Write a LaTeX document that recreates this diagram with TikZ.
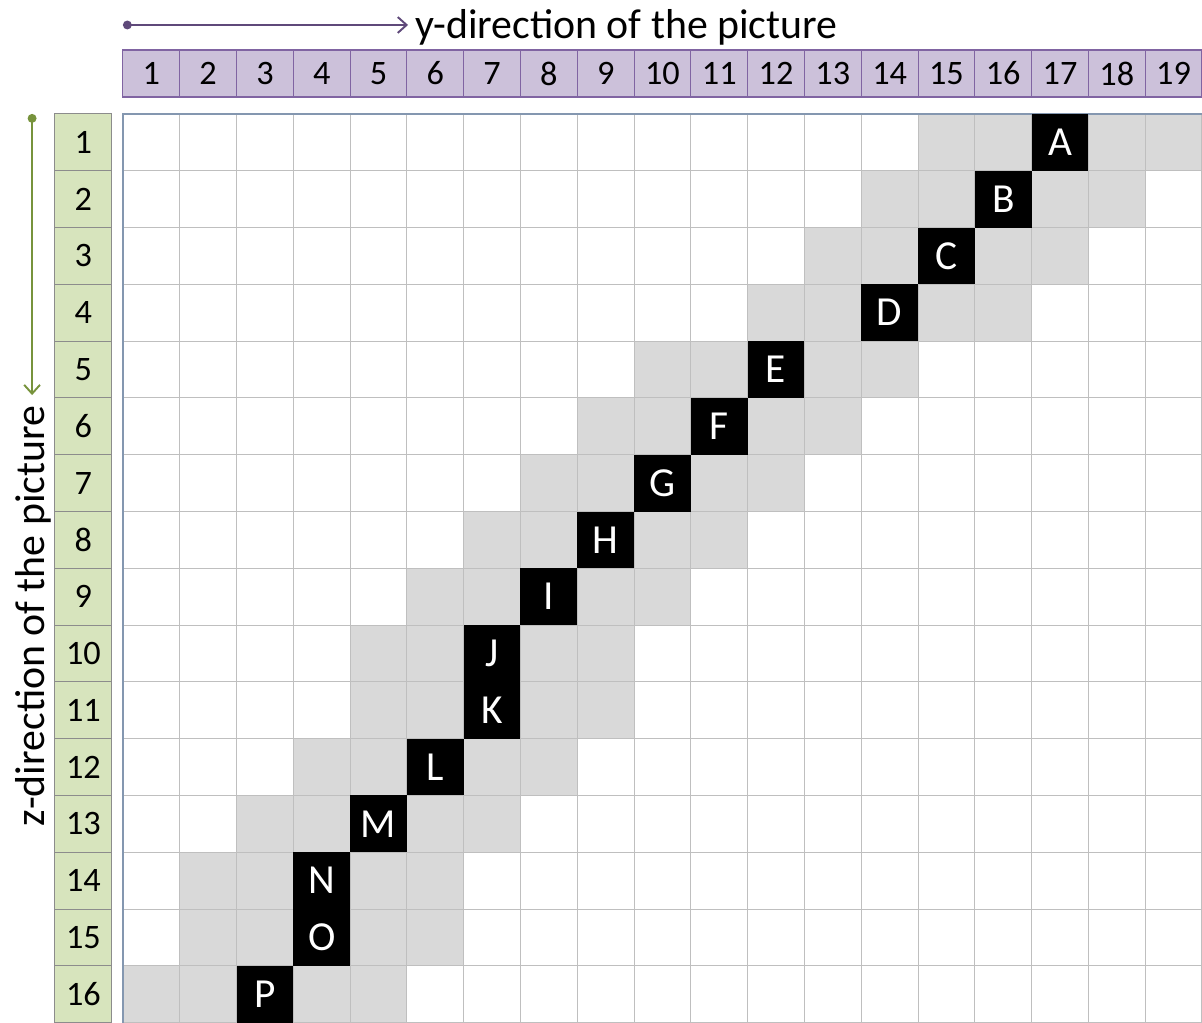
\documentclass[tikz,border=0pt]{standalone}
\usepackage{fontspec}
\setmainfont{Carlito}
\usetikzlibrary{arrows.meta}

\definecolor{headpurple}{HTML}{CCC1DA}
\definecolor{headline}{HTML}{8064A2}
\definecolor{headgreen}{HTML}{D7E4BD}
\definecolor{rowline}{HTML}{8C8C8C}
\definecolor{cellgray}{HTML}{D9D9D9}
\definecolor{gridgray}{HTML}{BFBFBF}
\definecolor{framegray}{HTML}{8497B0}
\definecolor{yarrow}{HTML}{5F497A}
\definecolor{zarrow}{HTML}{77933C}

\begin{document}
\begin{tikzpicture}[x=1.136cm, y=-1.136cm]

% --- Styles ---
\tikzset{
    colhead/.style={fill=headpurple, draw=headline, line width=0.6pt,
        minimum width=1.136cm, minimum height=0.94cm, inner sep=0pt,
        font=\fontsize{19.5}{19.5}\selectfont},
    rowhead/.style={fill=headgreen, draw=rowline, line width=0.6pt,
        minimum width=1.136cm, minimum height=1.136cm, inner sep=0pt,
        font=\fontsize{19.5}{19.5}\selectfont},
    shaded/.style={fill=cellgray},
    gridline/.style={draw=gridgray, line width=0.6pt},
    gridframe/.style={draw=framegray, line width=0.7pt},
    blackcell/.style={fill=black, text=white, minimum size=1.136cm,
        inner sep=0pt, font=\fontsize{23.5}{23.5}\selectfont},
    axisarrow/.style={{Circle[length=5pt]}-{Straight Barb[length=5pt, width=9pt]},
        line width=1.1pt},
    axislabel/.style={font=\fontsize{23.8}{24}\selectfont, inner sep=0pt}
}

\useasboundingbox (-2.165,-2.007) rectangle (19,16);

% --- Gray band (two cells either side) ---
\foreach \r/\c in {1/17, 2/16, 3/15, 4/14, 5/12, 6/11, 7/10, 8/9,
                   9/8, 10/7, 11/7, 12/6, 13/5, 14/4, 15/4, 16/3}
    \fill[shaded] (\c-3,\r-1) rectangle (\c+2,\r);

% --- Grid ---
\foreach \i in {1,...,19}
    \draw[gridline] (\i,0) -- (\i,16);
\foreach \j in {1,...,16}
    \draw[gridline] (0,\j) -- (19,\j);
\draw[gridframe] (0,16) -- (0,0) -- (19,0);

% --- Black cells ---
\foreach \r/\c/\t in {1/17/A, 2/16/B, 3/15/C, 4/14/D, 5/12/E, 6/11/F,
                      7/10/G, 8/9/H, 9/8/I, 10/7/J, 11/7/K, 12/6/L,
                      13/5/M, 14/4/N, 15/4/O, 16/3/P}
    \node[blackcell] (\t) at (\c-0.5,\r-0.5) {\t};

% --- Column headers (y) ---
\foreach \i in {1,...,19}
    \node[colhead] (col-\i) at (\i-0.5,-0.713) {\i};

% --- Row headers (z) ---
\foreach \j in {1,...,16}
    \node[rowhead] (row-\j) at (-0.697,\j-0.5) {\j};

% --- Axis arrows ---
\coordinate (ystart) at (0,-1.567);
\coordinate (yend) at (5.02,-1.567);
\draw[axisarrow, yarrow] (ystart) -- (yend);
\node[axislabel, anchor=west] (ylabel) at (5.14,-1.52) {y-direction of the picture};

\coordinate (zstart) at (-1.6,0);
\coordinate (zend) at (-1.6,4.95);
\draw[axisarrow, zarrow] (zstart) -- (zend);
\node[axislabel, rotate=90] (zlabel) at (-1.58,8.84) {z-direction of the picture};

\end{tikzpicture}
\end{document}
